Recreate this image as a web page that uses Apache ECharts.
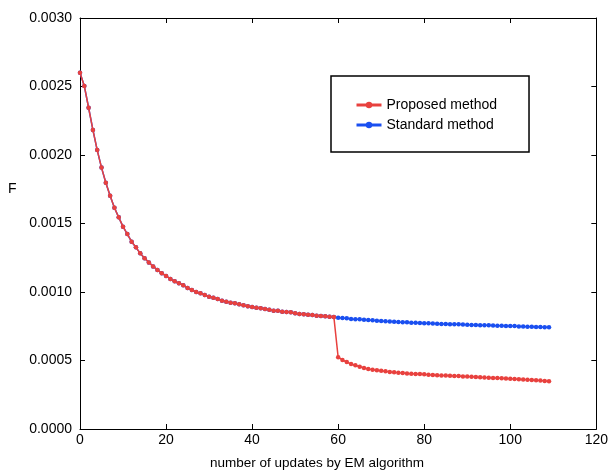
<!DOCTYPE html>
<html>
<head>
<meta charset="utf-8">
<script src="https://cdn.jsdelivr.net/npm/echarts@6/dist/echarts.min.js"></script>
<style>html,body{margin:0;padding:0;background:#fff}#c{width:611px;height:471px}</style>
</head>
<body>
<div id="c"></div>
<script>
// shared part (iterations 0..59)
var sharedValues = [
  0.002600, 0.002504, 0.002345, 0.002183, 0.002036, 0.001908, 0.001798, 0.001703, 0.001615, 0.001545,
  0.001477, 0.001423, 0.001367, 0.001326, 0.001282, 0.001246, 0.001216, 0.001187, 0.001161, 0.001136,
  0.001117, 0.001095, 0.001078, 0.001064, 0.001049, 0.001029, 0.001015, 0.001000, 0.000990, 0.000978,
  0.000966, 0.000958, 0.000949, 0.000937, 0.000929, 0.000922, 0.000917, 0.000910, 0.000903, 0.000896,
  0.000891, 0.000885, 0.000881, 0.000876, 0.000871, 0.000864, 0.000863, 0.000856, 0.000854, 0.000852,
  0.000845, 0.000839, 0.000838, 0.000834, 0.000832, 0.000827, 0.000825, 0.000823, 0.000820, 0.000818
];
// iterations 60..109
var proposedTail = [
  0.000523, 0.000504, 0.000489, 0.000474, 0.000465, 0.000455, 0.000445, 0.000438, 0.000433, 0.000428,
  0.000426, 0.000421, 0.000416, 0.000414, 0.000411, 0.000409, 0.000406, 0.000404, 0.000402, 0.000401,
  0.000399, 0.000396, 0.000395, 0.000392, 0.000391, 0.000390, 0.000389, 0.000387, 0.000386, 0.000384,
  0.000383, 0.000381, 0.000379, 0.000378, 0.000376, 0.000375, 0.000373, 0.000372, 0.000370, 0.000368,
  0.000367, 0.000365, 0.000363, 0.000362, 0.000360, 0.000358, 0.000356, 0.000354, 0.000351, 0.000348
];
var standardTail = [
  0.000812, 0.000810, 0.000808, 0.000803, 0.000802, 0.000801, 0.000797, 0.000796, 0.000793, 0.000790,
  0.000789, 0.000786, 0.000785, 0.000783, 0.000781, 0.000780, 0.000779, 0.000776, 0.000775, 0.000774,
  0.000772, 0.000771, 0.000770, 0.000769, 0.000767, 0.000766, 0.000765, 0.000764, 0.000764, 0.000762,
  0.000761, 0.000760, 0.000759, 0.000758, 0.000757, 0.000757, 0.000755, 0.000754, 0.000753, 0.000752,
  0.000751, 0.000751, 0.000749, 0.000748, 0.000747, 0.000746, 0.000745, 0.000744, 0.000743, 0.000742
];
var xTicks = [0, 20, 40, 60, 80, 100, 120];
var yTicks = [0.0000, 0.0005, 0.0010, 0.0015, 0.0020, 0.0025, 0.0030];

var proposed = sharedValues.concat(proposedTail);
var standard = sharedValues.concat(standardTail);
function toPairs(arr) { return arr.map(function (v, i) { return [i, v]; }); }

var RED = '#e8413e', BLUE = '#1a4ff0';
var FONT = 'Liberation Sans';
var chart = echarts.init(document.getElementById('c'), null, { renderer: 'canvas' });
var axisCommon = {
  axisLine: { show: true, onZero: false, lineStyle: { color: '#000', width: 1 } },
  axisTick: { show: true, inside: true, length: 5, lineStyle: { color: '#000' } },
  splitLine: { show: false }
};
chart.setOption({
  animation: false,
  backgroundColor: '#fff',
  grid: { left: 80, right: 12, top: 18, bottom: 42, containLabel: false },
  xAxis: [
    Object.assign({ type: 'value', min: xTicks[0], max: xTicks[xTicks.length - 1], interval: xTicks[1] - xTicks[0],
      position: 'bottom',
      axisLabel: { color: '#000', fontFamily: FONT, fontSize: 14, margin: 4 } }, axisCommon),
    Object.assign({ type: 'value', min: xTicks[0], max: xTicks[xTicks.length - 1], interval: xTicks[1] - xTicks[0],
      position: 'top', axisLabel: { show: false } }, axisCommon)
  ],
  yAxis: [
    Object.assign({ type: 'value', min: yTicks[0], max: yTicks[yTicks.length - 1], interval: yTicks[1] - yTicks[0],
      position: 'left',
      axisLabel: { color: '#000', fontFamily: FONT, fontSize: 14, margin: 8,
        formatter: function (v) { return v.toFixed(4); } } }, axisCommon),
    Object.assign({ type: 'value', min: yTicks[0], max: yTicks[yTicks.length - 1], interval: yTicks[1] - yTicks[0],
      position: 'right', axisLabel: { show: false } }, axisCommon)
  ],
  legend: {
    data: ['Proposed method', 'Standard method'],
    orient: 'vertical',
    left: 331, top: 76,
    padding: [22, 32, 20, 24],
    itemGap: 6,
    itemWidth: 25, itemHeight: 8,
    borderColor: '#000', borderWidth: 1.5, borderRadius: 0,
    textStyle: { color: '#000', fontFamily: FONT, fontSize: 14 },
    lineStyle: { width: 3 }
  },
  graphic: [
    { type: 'text', left: 8, top: 182, style: { text: 'F', fill: '#000', font: '14px "Liberation Sans"' } },
    { type: 'text', x: 317, y: 463, style: { text: 'number of updates by EM algorithm', fill: '#000',
      font: '13.5px "Liberation Sans"', textAlign: 'center', textVerticalAlign: 'middle' } }
  ],
  series: [
    { name: 'Standard method', type: 'line', data: toPairs(standard), color: BLUE,
      symbol: 'circle', symbolSize: 4.5, showSymbol: true,
      lineStyle: { width: 1.5, color: BLUE }, itemStyle: { color: BLUE }, z: 2 },
    { name: 'Proposed method', type: 'line', data: toPairs(proposed), color: RED,
      symbol: 'circle', symbolSize: 4.5, showSymbol: true,
      lineStyle: { width: 1.5, color: RED }, itemStyle: { color: RED }, z: 3 }
  ]
});
</script>
</body>
</html>
